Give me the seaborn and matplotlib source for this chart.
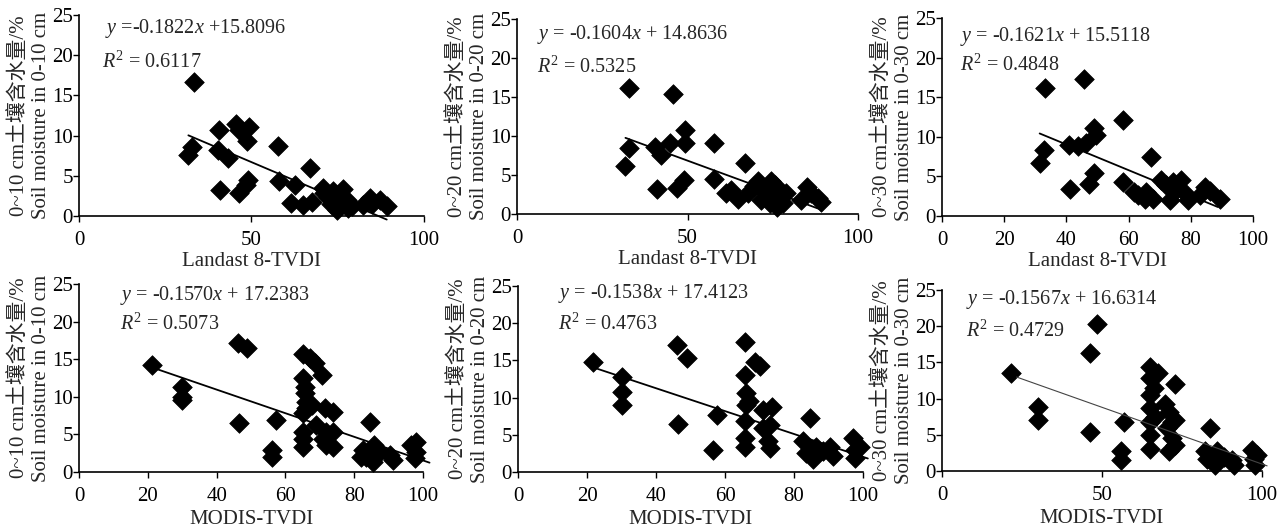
import matplotlib
matplotlib.use("Agg")
import matplotlib.pyplot as plt
import seaborn as sns
import pandas as pd

# Landsat 8-TVDI vs soil moisture (0-10, 0-20, 0-30 cm)
l8_tvdi_10 = [33.4, 31.7, 32.7, 40.7, 40.4, 43.3, 40.9, 45.5, 46.5, 49.4, 48.8, 49.1, 48.4, 46.5,
              57.6, 58.1, 62.6, 61.4, 67.0, 65.0, 67.4, 70.8, 73.5, 74.7, 76.6, 77.6, 79.0, 82.4,
              84.3, 87.2, 89.2, 74.2, 75.7, 72.3, 71.0, 73.0, 78.0, 85.0]
l8_sm_10 = [16.7, 7.6, 8.6, 10.7, 8.2, 7.2, 3.2, 11.5, 10.7, 11.1, 9.3, 4.5, 3.9, 2.9,
            8.7, 4.3, 3.8, 1.6, 6.0, 1.4, 1.8, 3.5, 3.1, 0.8, 3.3, 2.0, 1.2, 1.4,
            2.2, 2.0, 1.2, 2.0, 1.2, 2.4, 2.8, 1.5, 1.0, 1.5]

l8_tvdi_20 = [32.7, 31.8, 32.7, 40.6, 41.1, 42.1, 45.7, 45.0, 47.0, 48.9, 49.2, 49.2, 57.7, 57.8,
              61.4, 62.9, 64.8, 66.8, 67.7, 70.7, 72.1, 74.1, 75.6, 77.0, 78.0, 79.0, 83.4, 84.9,
              86.3, 88.3, 89.2, 73.1, 74.6, 76.1, 71.5, 69.5]
l8_sm_20 = [16.1, 6.1, 8.4, 8.6, 3.2, 7.6, 15.4, 9.1, 3.3, 4.4, 10.8, 9.1, 9.1, 4.5,
            2.7, 3.1, 1.9, 6.6, 2.7, 4.2, 3.1, 1.4, 3.7, 2.2, 1.4, 2.7, 1.8, 3.5,
            2.7, 2.0, 1.6, 2.7, 4.2, 0.9, 1.8, 3.6]

l8_tvdi_30 = [33.2, 31.4, 32.8, 40.8, 41.3, 43.7, 45.5, 46.2, 47.3, 48.9, 48.9, 49.6, 58.2, 58.2,
              61.6, 63.0, 65.2, 65.7, 67.8, 67.1, 70.5, 72.1, 73.2, 74.3, 75.4, 77.0, 78.1, 79.1,
              82.8, 84.5, 86.1, 89.3]
l8_sm_30 = [16.1, 6.7, 8.3, 9.0, 3.4, 8.8, 17.3, 9.2, 4.0, 5.4, 11.1, 10.2, 12.1, 4.3,
            3.0, 2.7, 2.1, 3.0, 2.2, 7.4, 4.6, 3.9, 2.0, 4.3, 3.3, 4.6, 2.9, 2.0,
            2.7, 3.7, 3.1, 2.1]

# MODIS-TVDI vs soil moisture (0-10, 0-20, 0-30 cm)
md_tvdi_10 = [21.1, 29.8, 29.8, 29.8, 46.3, 48.7, 46.6, 56.0, 56.0, 57.4, 65.2, 67.1, 68.5, 70.5,
              65.2, 65.6, 65.6, 66.1, 66.1, 65.2, 67.6, 65.2, 65.2, 65.2, 69.0, 71.5, 73.9, 71.9,
              73.9, 71.9, 73.9, 71.0, 84.5, 82.6, 83.5, 85.4, 85.9, 87.4, 90.3, 91.3, 96.6, 98.1,
              97.6, 98.0, 82.1]
md_sm_10 = [14.2, 11.3, 9.6, 10.0, 17.2, 16.5, 6.5, 2.9, 2.0, 6.9, 15.7, 15.1, 14.5, 12.9,
            12.5, 11.3, 10.5, 9.3, 8.5, 7.8, 8.9, 5.3, 4.4, 3.3, 6.2, 8.5, 8.0, 5.3,
            5.3, 3.6, 3.3, 4.4, 6.7, 2.9, 2.0, 1.3, 3.6, 2.7, 2.2, 1.6, 3.6, 4.0,
            1.8, 2.7, 2.0]

md_tvdi_20 = [21.6, 30.1, 30.1, 30.1, 46.0, 48.9, 46.5, 56.6, 57.6, 65.8, 65.8, 66.1, 66.2, 67.0,
              65.8, 65.8, 65.8, 68.6, 70.1, 71.1, 73.5, 71.1, 73.0, 72.5, 73.0, 84.6, 82.6, 83.6,
              85.5, 86.5, 88.4, 90.4, 91.3, 97.1, 97.6, 97.6, 99.0]
md_sm_20 = [14.8, 12.8, 10.8, 9.0, 17.1, 15.3, 6.4, 3.0, 7.6, 17.5, 13.0, 10.6, 9.0, 9.5,
            6.8, 4.6, 3.4, 14.8, 14.2, 8.3, 8.8, 5.9, 6.3, 4.1, 3.2, 7.3, 4.1, 2.5,
            1.7, 3.4, 2.8, 3.4, 2.1, 4.6, 3.0, 1.9, 3.4]

md_tvdi_30 = [21.5, 30.1, 30.1, 46.2, 48.5, 46.2, 55.8, 55.8, 57.0, 65.0, 67.6, 72.9, 65.0, 65.0,
              65.0, 65.0, 65.0, 65.0, 66.1, 66.6, 69.7, 70.8, 71.8, 72.9, 70.3, 71.8, 72.9, 70.8,
              83.8, 82.3, 82.8, 85.4, 85.9, 88.0, 90.6, 91.1, 96.9, 97.4, 97.9, 98.4]
md_sm_30 = [13.5, 8.9, 7.0, 16.3, 20.3, 5.4, 2.7, 1.5, 6.8, 14.4, 13.5, 12.0, 12.8, 10.5,
            8.7, 6.8, 5.0, 3.1, 11.4, 7.5, 9.3, 8.2, 6.8, 7.0, 5.9, 4.5, 3.6, 2.7,
            5.9, 2.7, 1.7, 0.8, 2.7, 2.0, 1.5, 0.8, 2.9, 1.7, 0.8, 2.2]

panel_x = [l8_tvdi_10, l8_tvdi_20, l8_tvdi_30, md_tvdi_10, md_tvdi_20, md_tvdi_30]
panel_y = [l8_sm_10, l8_sm_20, l8_sm_30, md_sm_10, md_sm_20, md_sm_30]

# fitted lines as printed in the figure
slopes = [-0.1822, -0.1604, -0.1621, -0.1570, -0.1538, -0.1567]
intercepts = [15.8096, 14.8636, 15.5118, 17.2383, 17.4123, 16.6314]
r2_values = [0.6117, 0.5325, 0.4848, 0.5073, 0.4763, 0.4729]
fit_from = [31.7, 31.8, 31.4, 22.0, 21.9, 23.3]
fit_to = [89.2, 89.2, 88.7, 101.9, 101.4, 101.6]

depths = ["0-10", "0-20", "0-30", "0-10", "0-20", "0-30"]
depths_cn = ["0~10", "0~20", "0~30", "0~10", "0~20", "0~30"]
x_titles = ["Landast 8-TVDI"] * 3 + ["MODIS-TVDI"] * 3
x_ticks = [[0, 50, 100], [0, 50, 100], [0, 20, 40, 60, 80, 100],
           [0, 20, 40, 60, 80, 100], [0, 20, 40, 60, 80, 100], [0, 50, 100]]
y_ticks = [0, 5, 10, 15, 20, 25]

sns.set_style("ticks")
plt.rcParams["font.family"] = ["Liberation Serif", "Noto Sans CJK SC"]
plt.rcParams["mathtext.fontset"] = "custom"
plt.rcParams["mathtext.rm"] = "Liberation Serif"
plt.rcParams["mathtext.it"] = "Liberation Serif:italic"
plt.rcParams["xtick.direction"] = "out"
plt.rcParams["ytick.direction"] = "out"

W, H = 1279, 530
fig = plt.figure(figsize=(W / 100, H / 100), dpi=100)

# axes boxes in pixels: left, top, right, bottom
boxes = [(79, 15, 424, 216), (517, 19, 858, 214), (942, 18, 1253, 216),
         (79, 284, 423, 472), (518, 286, 863, 472), (942, 290, 1262, 471)]
# text anchors (axes fraction): equation and R2
eq_pos = [(0.075, 0.935), (0.059, 0.918), (0.058, 0.909), (0.119, 0.94), (0.116, 0.957), (0.075, 0.95)]
r2_pos = [(0.067, 0.766), (0.059, 0.754), (0.058, 0.763), (0.119, 0.787), (0.116, 0.796), (0.075, 0.77)]

fs = 15
fs_eq = 14.5
for i in range(6):
    l, t, r, b = boxes[i]
    ax = fig.add_axes([l / W, (H - b) / H, (r - l) / W, (b - t) / H])
    df = pd.DataFrame({"tvdi": panel_x[i], "sm": panel_y[i]})
    sns.scatterplot(data=df, x="tvdi", y="sm", marker="D", s=100, color="black",
                    edgecolor="black", linewidth=0.5, ax=ax, clip_on=False, zorder=3)
    line_df = pd.DataFrame({"tvdi": [fit_from[i], fit_to[i]]})
    line_df["sm"] = slopes[i] * line_df["tvdi"] + intercepts[i]
    if i == 5:
        ax.plot(line_df["tvdi"], line_df["sm"], color="#444444", lw=0.8, clip_on=False, zorder=4)
    else:
        ax.plot(line_df["tvdi"], line_df["sm"], color="black", lw=1.3, clip_on=False, zorder=4)

    ax.set_xlim(0, 100)
    ax.set_ylim(0, 25)
    ax.set_xticks(x_ticks[i])
    ax.set_yticks(y_ticks)
    ax.tick_params(labelsize=fs, length=4, width=1, colors="black")
    ax.tick_params(axis="x", pad=7 if i < 3 else 6.5)
    ax.tick_params(axis="y", pad=0.5)
    for s in ["left", "bottom"]:
        ax.spines[s].set_linewidth(1.2)
        ax.spines[s].set_color("black")
    sns.despine(ax=ax)

    ax.set_xlabel(x_titles[i], fontsize=fs, labelpad=1 if i < 3 else 3)
    ax.set_ylabel(f"{depths_cn[i]} cm土壤含水量/%\nSoil moisture in {depths[i]} cm",
                  fontsize=fs, labelpad=0.5, linespacing=1.25)

    sep = "=" if i == 0 else "= "
    plus = "+" if i == 0 else "+ "
    eq = f"$y$ {sep}{slopes[i]:.4f}$x$ {plus}{intercepts[i]:.4f}"
    ax.text(eq_pos[i][0], eq_pos[i][1], eq, transform=ax.transAxes, fontsize=fs_eq,
            ha="left", va="center")
    ax.text(r2_pos[i][0], r2_pos[i][1], f"$R^{{\\mathrm{{2}}}}$ = {r2_values[i]:.4f}",
            transform=ax.transAxes, fontsize=fs_eq, ha="left", va="center")

fig.savefig("out.png", dpi=100)
